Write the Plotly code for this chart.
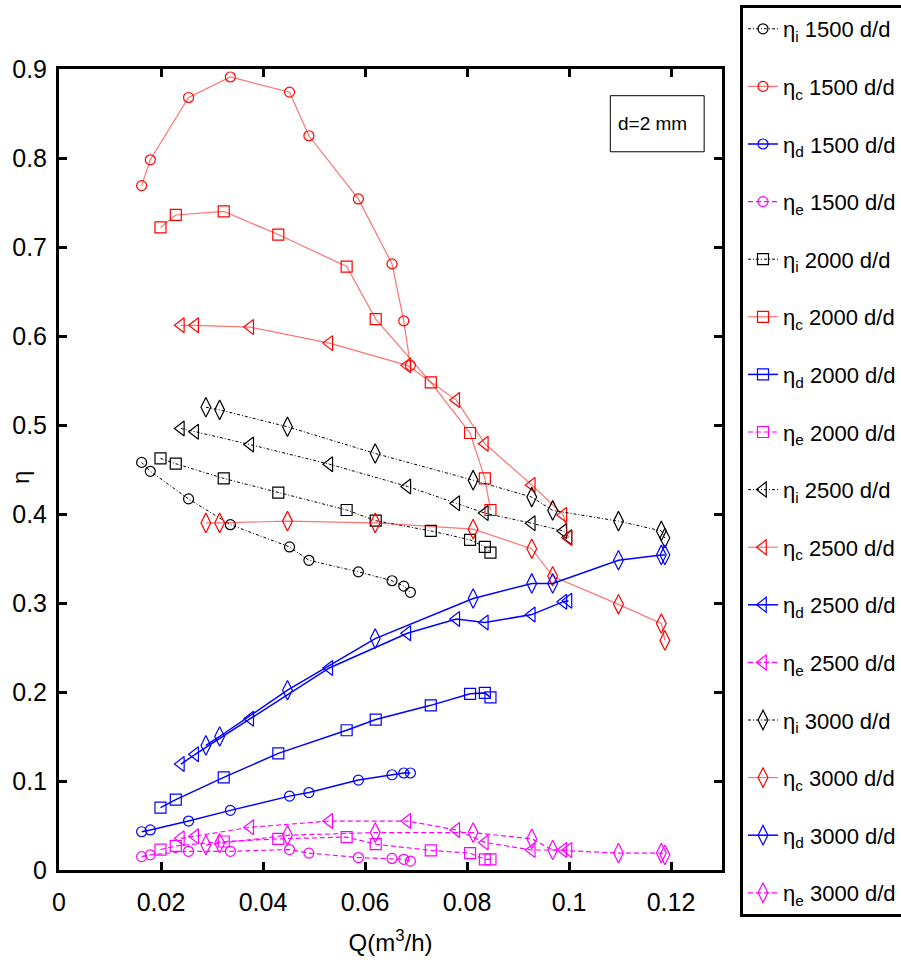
import plotly.graph_objects as go

# ---- data ----
q1500 = [0.0162, 0.0179, 0.0254, 0.0336, 0.0452, 0.0490, 0.0587, 0.0653, 0.0676, 0.0689]
eta_i_1500 = [0.458, 0.448, 0.417, 0.388, 0.363, 0.348, 0.335, 0.325, 0.319, 0.312]
eta_c_1500 = [0.769, 0.798, 0.868, 0.891, 0.874, 0.825, 0.754, 0.681, 0.617, 0.567]
eta_d_1500 = [0.043, 0.045, 0.055, 0.067, 0.083, 0.087, 0.101, 0.107, 0.109, 0.109]
eta_e_1500 = [0.015, 0.017, 0.021, 0.021, 0.023, 0.019, 0.014, 0.013, 0.012, 0.010]

q2000 = [0.0199, 0.0229, 0.0323, 0.0430, 0.0564, 0.0621, 0.0729, 0.0806, 0.0835, 0.0846]
eta_i_2000 = [0.4625, 0.4565, 0.440, 0.424, 0.4045, 0.3925, 0.381, 0.371, 0.363, 0.3565]
eta_c_2000 = [0.722, 0.736, 0.740, 0.714, 0.678, 0.619, 0.548, 0.491, 0.440, 0.4045]
eta_d_2000 = [0.070, 0.079, 0.104, 0.131, 0.157, 0.169, 0.185, 0.198, 0.199, 0.194]
eta_e_2000 = [0.023, 0.027, 0.032, 0.035, 0.037, 0.029, 0.022, 0.019, 0.012, 0.012]

q2500 = [0.0239, 0.0267, 0.0375, 0.0530, 0.0683, 0.0779, 0.0835, 0.0927, 0.0989, 0.0999]
eta_i_2500 = [0.496, 0.4925, 0.478, 0.456, 0.431, 0.412, 0.401, 0.3895, 0.381, 0.374]
eta_c_2500 = [0.612, 0.612, 0.610, 0.592, 0.567, 0.528, 0.479, 0.4326, 0.399, 0.373]
eta_d_2500 = [0.119, 0.130, 0.170, 0.227, 0.266, 0.282, 0.278, 0.287, 0.3015, 0.3026]
eta_e_2500 = [0.0356, 0.038, 0.048, 0.055, 0.055, 0.045, 0.031, 0.0225, 0.0225, 0.0225]

q3000 = [0.0288, 0.0315, 0.0448, 0.0620, 0.0812, 0.0927, 0.0968, 0.1097, 0.1181, 0.1188]
eta_i_3000 = [0.520, 0.517, 0.498, 0.468, 0.438, 0.419, 0.404, 0.392, 0.381, 0.373]
eta_c_3000 = [0.390, 0.390, 0.392, 0.390, 0.383, 0.361, 0.330, 0.2985, 0.277, 0.258]
eta_d_3000 = [0.140, 0.150, 0.202, 0.260, 0.305, 0.322, 0.322, 0.348, 0.354, 0.354]
eta_e_3000 = [0.028, 0.030, 0.039, 0.042, 0.042, 0.035, 0.0225, 0.019, 0.019, 0.017]

speeds = ["1500", "2000", "2500", "3000"]
flows = [q1500, q2000, q2500, q3000]
series = {
    "i": [eta_i_1500, eta_i_2000, eta_i_2500, eta_i_3000],
    "c": [eta_c_1500, eta_c_2000, eta_c_2500, eta_c_3000],
    "d": [eta_d_1500, eta_d_2000, eta_d_2500, eta_d_3000],
    "e": [eta_e_1500, eta_e_2000, eta_e_2500, eta_e_3000],
}
x_ticks = [0, 0.02, 0.04, 0.06, 0.08, 0.1, 0.12]
y_ticks = [0, 0.1, 0.2, 0.3, 0.4, 0.5, 0.6, 0.7, 0.8, 0.9]

# ---- styles ----
FONT = "Liberation Sans Narrow, Arial Narrow, Liberation Sans, Arial, sans-serif"
marker_syms = ["circle-open", "square-open", "triangle-left-open", "diamond-tall-open"]
marker_sizes = [10, 11, 13, 14]
styles = {
    "i": dict(color="#000000", line=dict(color="#000000", width=1, dash="3px,2px,1px,2px")),
    "c": dict(color="#ff0000", line=dict(color="rgba(255,0,0,0.55)", width=1.2, dash="solid")),
    "d": dict(color="#0000ff", line=dict(color="#0000ff", width=1.5, dash="solid")),
    "e": dict(color="#ff00ff", line=dict(color="#ff00ff", width=1.2, dash="5px,3px")),
}

fig = go.Figure()
for k, sp in enumerate(speeds):
    for key in ["i", "c", "d", "e"]:
        st = styles[key]
        fig.add_trace(go.Scatter(
            x=flows[k], y=series[key][k],
            mode="lines+markers",
            name=f"η<sub>{key}</sub> {sp} d/d",
            legendgroup=f"{key}{sp}",
            line=st["line"],
            marker=dict(symbol=marker_syms[k], size=marker_sizes[k], color=st["color"],
                        line=dict(color=st["color"], width=1.2)),
        ))

axis_common = dict(
    showline=True, linecolor="black", linewidth=3, mirror="ticks",
    ticks="inside", ticklen=8, tickwidth=3, tickcolor="black",
    showgrid=False, zeroline=False, automargin=False,
    tickfont=dict(family=FONT, size=25, color="black"),
)

fig.update_layout(
    width=901, height=969,
    margin=dict(l=59, r=179, t=69, b=99),
    paper_bgcolor="white", plot_bgcolor="white",
    font=dict(family=FONT, color="black"),
    xaxis=dict(range=[0, 0.13], tickvals=x_ticks, ticktext=[str(v) for v in x_ticks],
               ticklabelstandoff=8,
               title=dict(text="Q(m<sup>3</sup>/h)", font=dict(family=FONT, size=24), standoff=20),
               **axis_common),
    yaxis=dict(range=[0, 0.9], tickvals=y_ticks, ticktext=[str(v) for v in y_ticks],
               ticklabelstandoff=4,
               **axis_common),
    legend=dict(
        xref="container", yref="container", x=740 / 901, y=1 - 5 / 969,
        xanchor="left", yanchor="top",
        bordercolor="black", borderwidth=3, bgcolor="white",
        font=dict(family=FONT, size=22, color="black"),
        tracegroupgap=26, traceorder="grouped",
    ),
    showlegend=True,
)
try:
    fig.update_layout(legend_maxheight=969)
except Exception:
    pass

# y-axis title
fig.add_annotation(x=(20 - 59) / 663, y=(870 - 478) / 801, xref="paper", yref="paper",
                   text="η", textangle=-90, showarrow=False,
                   xanchor="center", yanchor="middle",
                   font=dict(family=FONT, size=24, color="black"))

# "d=2 mm" label box
fig.add_shape(type="rect", xref="x", yref="y", x0=0.1081, x1=0.1265, y0=0.807, y1=0.870,
              line=dict(color="black", width=1), fillcolor="white")
fig.add_annotation(x=0.1092, y=0.8385, xref="x", yref="y", text="d=2 mm", showarrow=False,
                   xanchor="left", yanchor="middle", font=dict(family=FONT, size=19, color="black"))

fig.write_html("out.html")
